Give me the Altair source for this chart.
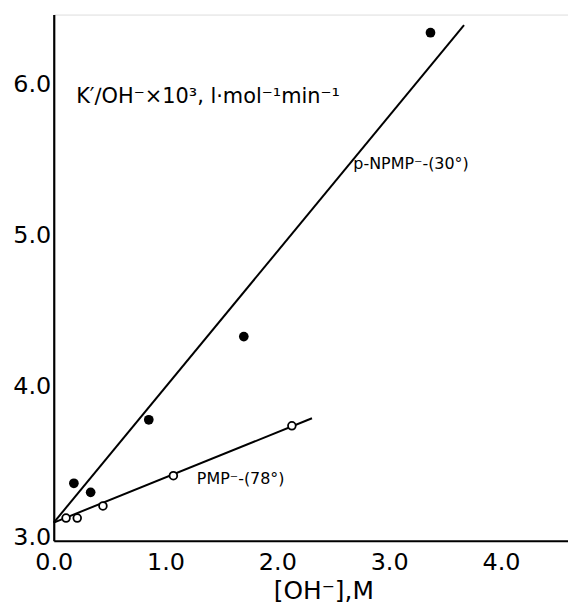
import altair as alt
import pandas as pd

# Data
npmp_x = [0.18, 0.33, 0.85, 1.70, 3.37]
npmp_y = [3.38, 3.32, 3.80, 4.35, 6.36]
pmp_x = [0.11, 0.21, 0.44, 1.07, 2.13]
pmp_y = [3.15, 3.15, 3.23, 3.43, 3.76]

# fitted lines (end points)
npmp_line_x = [0.0, 3.67]
npmp_line_y = [3.12, 6.41]
pmp_line_x = [0.0, 2.31]
pmp_line_y = [3.12, 3.81]

label_text = ["p-NPMP\u207b-(30\u00b0)", "PMP\u207b-(78\u00b0)"]
label_x = [2.68, 1.28]
label_y = [5.49, 3.41]

x_ticks = [0.0, 1.0, 2.0, 3.0, 4.0]
y_ticks = [3.0, 4.0, 5.0, 6.0]

FONT = "DejaVu Sans"

pts = pd.DataFrame({
    "x": npmp_x + pmp_x,
    "y": npmp_y + pmp_y,
    "s": ["NPMP"] * len(npmp_x) + ["PMP"] * len(pmp_x),
})
lines = pd.DataFrame({
    "x": npmp_line_x + pmp_line_x,
    "y": npmp_line_y + pmp_line_y,
    "s": ["NPMP"] * 2 + ["PMP"] * 2,
})
labels = pd.DataFrame({"t": label_text, "x": label_x, "y": label_y})

xs = alt.Scale(domain=[0, 4.6], nice=False, zero=False)
ys = alt.Scale(domain=[3.0, 6.48], nice=False, zero=False)

xaxis = alt.Axis(
    values=x_ticks, format=".1f", title="[OH\u207b],M",
    domain=True, domainColor="black", domainWidth=2.2,
    ticks=False, grid=False, labelFont=FONT, labelFontSize=24,
    labelColor="black", labelPadding=10, labelFlush=False, labelOverlap=False,
    titleFont=FONT, titleFontSize=25, titleFontWeight="normal",
    titleColor="black", titleX=271, titleY=58, titleBaseline="alphabetic",
)
yaxis = alt.Axis(
    values=y_ticks, format=".1f",
    title="K\u2032\u2215OH\u207b\u00d710\u00b3, l\u00b7mol\u207b\u00b9min\u207b\u00b9",
    domain=True, domainColor="black", domainWidth=2.2,
    ticks=False, grid=False, labelFont=FONT, labelFontSize=24,
    labelColor="black", labelPadding=3, labelFlush=False, labelOverlap=False,
    labelOffset=-3,
    titleFont=FONT, titleFontSize=21, titleFontWeight="normal",
    titleColor="black", titleAngle=0, titleAlign="left",
    titleBaseline="alphabetic", titleX=22, titleY=88,
)

base_line = alt.Chart(lines).mark_line(color="black", strokeWidth=2).encode(
    x=alt.X("x:Q", scale=xs, axis=xaxis),
    y=alt.Y("y:Q", scale=ys, axis=yaxis),
    detail="s:N",
)

filled = alt.Chart(pts).transform_filter(alt.datum.s == "NPMP").mark_point(
    shape="circle", filled=True, color="black", size=95, opacity=1
).encode(x=alt.X("x:Q", scale=xs), y=alt.Y("y:Q", scale=ys))

opened = alt.Chart(pts).transform_filter(alt.datum.s == "PMP").mark_point(
    shape="circle", filled=True, fill="white", stroke="black", strokeWidth=1.8,
    size=60, opacity=1
).encode(x=alt.X("x:Q", scale=xs), y=alt.Y("y:Q", scale=ys))

text = alt.Chart(labels).mark_text(
    align="left", baseline="middle", font=FONT, fontSize=16, color="black"
).encode(x=alt.X("x:Q", scale=xs), y=alt.Y("y:Q", scale=ys), text="t:N")

chart = alt.layer(base_line, opened, filled, text).properties(
    width=517, height=529,
    autosize=alt.AutoSizeParams(type="none"),
    padding={"left": 46, "top": 5, "right": 0, "bottom": 63},
).configure_view(stroke=None).configure(background="white")

chart.save("out.html", embed_options={"renderer": "svg", "actions": False})
